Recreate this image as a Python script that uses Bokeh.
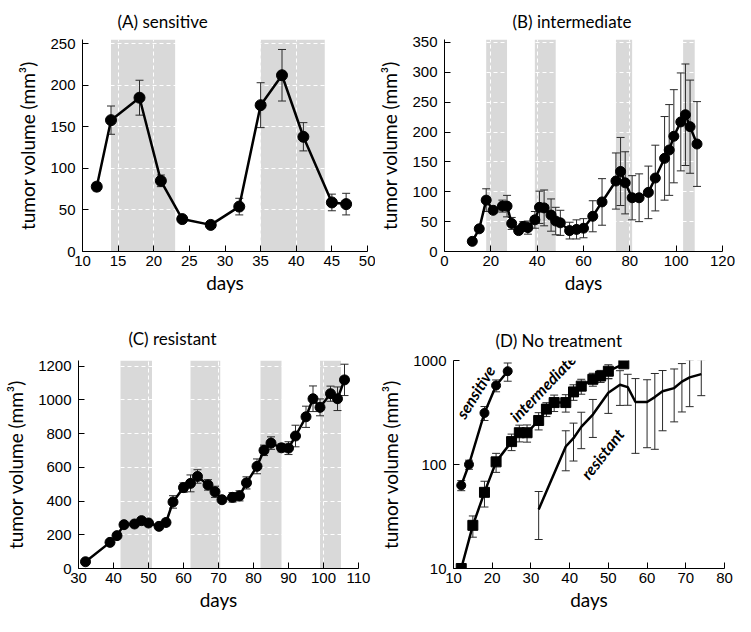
import numpy as np
from bokeh.plotting import figure
from bokeh.models import (ColumnDataSource, Whisker, TeeHead, FixedTicker, Label,
                          Range1d, BoxAnnotation, PrintfTickFormatter)
from bokeh.layouts import column, row
from bokeh.embed import file_html
from bokeh.resources import INLINE

# ---------------- data ----------------
# (A) sensitive
days_A = [12, 14, 18, 21, 24, 28, 32, 35, 38, 41, 45, 47]
vol_A = [78, 158, 185, 85, 39, 32, 54, 176, 212, 138, 59, 57]
err_A = [5, 17, 21, 7, 3, 3, 10, 27, 31, 17, 10, 13]
bands_A_start = [14, 35]
bands_A_end = [23, 44]

# (B) intermediate
days_B = [12, 15, 18, 21, 25, 27, 29, 32, 34, 36, 39, 41, 43, 46, 48, 50, 54, 57, 60,
          64, 68, 74, 76, 78, 81, 84, 88, 91, 95, 97, 99, 102, 104, 106, 109]
vol_B = [17, 38, 86, 69, 76, 76, 47, 35, 42, 40, 53, 74, 73, 61, 51, 48, 35, 37, 39,
         59, 83, 118, 134, 115, 90, 90, 99, 123, 156, 170, 193, 217, 229, 209, 180]
err_B = [3, 5, 19, 5, 10, 18, 10, 5, 8, 11, 14, 27, 30, 27, 23, 21, 14, 16, 16,
         26, 39, 47, 57, 52, 37, 40, 44, 55, 70, 76, 78, 82, 85, 78, 71]
bands_B_start = [18, 39, 74, 103]
bands_B_end = [27, 48, 81, 108]

# (C) resistant
days_C = [32, 39, 41, 43, 46, 48, 50, 53, 55, 57, 60, 62, 64, 67, 69, 71, 74, 76, 78,
          81, 83, 85, 88, 90, 92, 95, 97, 99, 102, 104, 106]
vol_C = [40, 155, 195, 260, 264, 284, 270, 250, 273, 395, 480, 505, 546, 496, 455, 408,
         422, 431, 508, 606, 701, 744, 716, 714, 786, 900, 1007, 956, 1037, 1007, 1119]
err_C = [5, 10, 12, 15, 15, 15, 12, 10, 20, 37, 28, 50, 40, 31, 33, 12, 28, 30, 36,
         44, 31, 37, 24, 38, 64, 63, 76, 50, 45, 70, 93]
bands_C_start = [42, 62, 82, 99]
bands_C_end = [51, 70.5, 88, 105]

# (D) no treatment
days_Ds = [12, 14, 18, 21, 24]
vol_Ds = [63, 100, 313, 575, 789]
err_Ds = [7, 10, 48, 75, 157]
days_Di = [12, 15, 18, 21, 25, 27, 29, 32, 34, 36, 39, 41, 43, 46, 48, 50, 54]
vol_Di = [10, 26, 54, 106, 166, 202, 202, 265, 341, 394, 394, 499, 567, 660, 709, 789, 929]
err_Di = [1, 6, 15, 22, 30, 37, 38, 50, 52, 71, 75, 85, 93, 94, 94, 121, 40]
days_Dr = [32, 39, 41, 43, 46, 50, 53, 55, 57, 60, 62, 64, 67, 69, 71, 74]
vol_Dr = [37, 149, 179, 230, 302, 490, 584, 554, 399, 399, 445, 506, 543, 627, 688, 739]
err_Dr = [18, 62, 71, 88, 120, 180, 214, 183, 271, 254, 305, 295, 286, 307, 328, 280]
label_text_D = ["sensitive", "intermediate", "resistant"]
label_x_D = [15.6, 33.0, 48.4]
label_y_D = [500, 550, 127]
label_angle_D = [58, 46, 52]

ticks_x_A = [10, 15, 20, 25, 30, 35, 40, 45, 50]
ticks_y_A = [0, 50, 100, 150, 200, 250]
ticks_x_B = [0, 20, 40, 60, 80, 100, 120]
ticks_y_B = [0, 50, 100, 150, 200, 250, 300, 350]
ticks_x_C = [30, 40, 50, 60, 70, 80, 90, 100, 110]
ticks_y_C = [0, 200, 400, 600, 800, 1000, 1200]
ticks_x_D = [10, 20, 30, 40, 50, 60, 70, 80]
ticks_y_D = [10, 100, 1000]

TICK_FONT = "Liberation Sans"
TEXT_FONT = "Lato"
ERR_COLOR = "#2a2a2a"
BAND_COLOR = "#d9d9d9"


def make_fig(title, xr, yr, xticks, yticks, width, height, left, right, top, bottom,
             title_offset, title_standoff, log=False):
    p = figure(width=width, height=height, output_backend="svg", toolbar_location=None,
               x_range=Range1d(*xr), y_range=Range1d(*yr),
               y_axis_type="log" if log else "linear",
               min_border_left=left, min_border_right=right,
               min_border_top=top, min_border_bottom=bottom)
    p.outline_line_color = None
    p.background_fill_color = "white"
    p.border_fill_color = "white"
    p.title.text = title
    p.title.text_font = TEXT_FONT
    p.title.text_font_size = "17px"
    p.title.text_font_style = "normal"
    p.title.text_color = "black"
    p.title.align = "left"
    p.title.offset = title_offset
    p.title.standoff = title_standoff
    p.xaxis.ticker = FixedTicker(ticks=xticks)
    p.yaxis.ticker = FixedTicker(ticks=yticks)
    for ax in (p.xaxis[0], p.yaxis[0]):
        ax.major_label_text_font = TICK_FONT
        ax.major_label_text_font_size = "15px"
        ax.major_label_text_color = "black"
        ax.major_tick_in = 6
        ax.major_tick_out = 0
        ax.major_tick_line_color = "black"
        ax.minor_tick_line_color = None
        ax.axis_line_color = "black"
        ax.axis_line_width = 1
        ax.axis_label_text_font = TEXT_FONT
        ax.axis_label_text_font_size = "19px"
        ax.axis_label_text_font_style = "normal"
        ax.axis_label_text_color = "black"
    p.xaxis.axis_label = "days"
    p.xaxis.axis_label_standoff = 2
    p.xaxis.major_label_standoff = 4
    p.yaxis.axis_label = "tumor volume (mm\u00b3)"
    p.yaxis.axis_label_standoff = 8
    p.yaxis.major_label_standoff = 7
    if log:
        p.yaxis.formatter = PrintfTickFormatter(format="%d")
    for g in (p.xgrid[0], p.ygrid[0]):
        g.grid_line_color = "white"
        g.grid_line_dash = "4 3"
        g.grid_line_width = 1
    return p


def add_bands(p, starts, ends):
    for s, e in zip(starts, ends):
        p.add_layout(BoxAnnotation(left=s, right=e, fill_color=BAND_COLOR, fill_alpha=1,
                                   line_color=None, level="image"))


def add_series(p, days, vol, err, marker="circle", size=10, show_marker=True):
    d = np.array(days, dtype=float)
    v = np.array(vol, dtype=float)
    e = np.array(err, dtype=float)
    src = ColumnDataSource(dict(x=d, y=v, up=v + e, lo=v - e))
    p.add_layout(Whisker(source=src, base="x", upper="up", lower="lo",
                         line_color=ERR_COLOR, line_width=1,
                         upper_head=TeeHead(size=8, line_color=ERR_COLOR, line_width=1),
                         lower_head=TeeHead(size=8, line_color=ERR_COLOR, line_width=1)))
    p.line("x", "y", source=src, line_color="black", line_width=2.5)
    if show_marker:
        p.scatter("x", "y", source=src, marker=marker, size=size,
                  fill_color="black", line_color="black")


# (A)
pA = make_fig("(A) sensitive", (10, 50), (0, 255), ticks_x_A, ticks_y_A,
              375, 302, 82, 8, 32, 51, 35, 15)
add_bands(pA, bands_A_start, bands_A_end)
add_series(pA, days_A, vol_A, err_A, size=11)

# (B)
pB = make_fig("(B) intermediate", (0, 120), (0, 355), ticks_x_B, ticks_y_B,
              360, 302, 69, 13, 34, 48, 68, 16)
add_bands(pB, bands_B_start, bands_B_end)
add_series(pB, days_B, vol_B, err_B, size=10)

# (C)
pC = make_fig("(C) resistant", (30, 110), (0, 1234), ticks_x_C, ticks_y_C,
              375, 314, 78, 17, 58, 48, 50, 23)
add_bands(pC, bands_C_start, bands_C_end)
add_series(pC, days_C, vol_C, err_C, size=10)

# (D)
pD = make_fig("(D) No treatment", (10, 80), (10, 1000), ticks_x_D, ticks_y_D,
              360, 314, 78, 11, 55, 48, 42, 20, log=True)
pD.xgrid.grid_line_color = None
pD.ygrid.grid_line_color = None
add_series(pD, days_Ds, vol_Ds, err_Ds, marker="circle", size=9)
add_series(pD, days_Di, vol_Di, err_Di, marker="square", size=10)
add_series(pD, days_Dr, vol_Dr, err_Dr, show_marker=False)
for t, x, y, a in zip(label_text_D, label_x_D, label_y_D, label_angle_D):
    pD.add_layout(Label(x=x, y=y, text=t, angle=a, angle_units="deg",
                        text_font=TEXT_FONT, text_font_style="bold italic",
                        text_font_size="16px", text_align="center",
                        text_baseline="middle", text_color="black"))

layout = column(row(pA, pB), row(pC, pD))
open("out.html", "w").write(file_html(layout, INLINE))
